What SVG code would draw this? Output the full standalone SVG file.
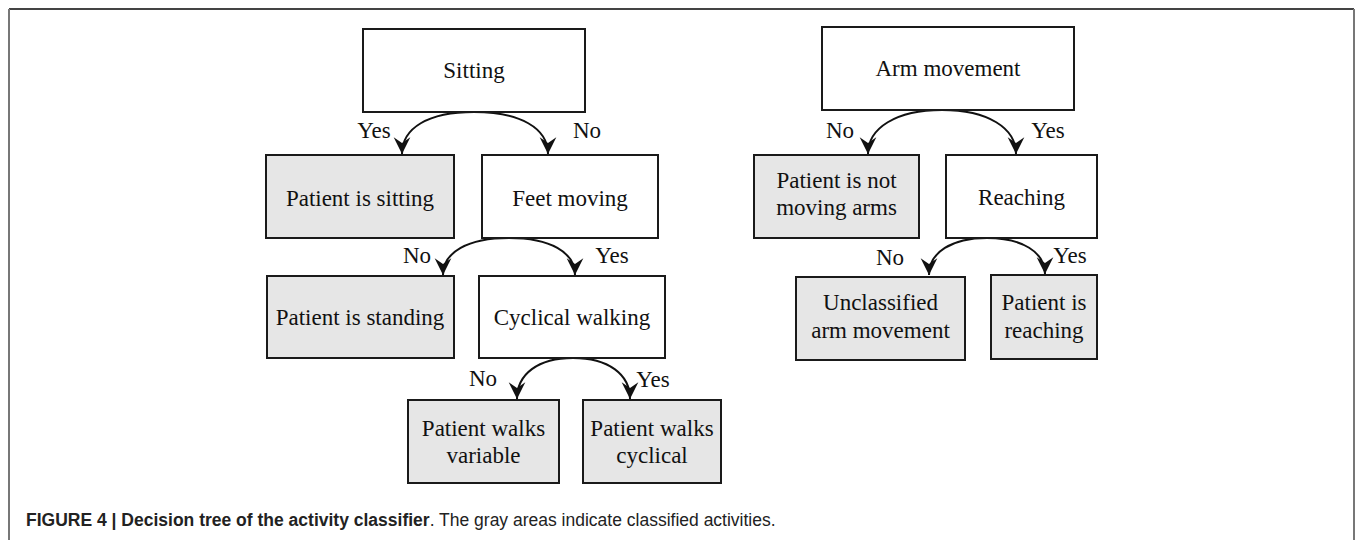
<svg xmlns="http://www.w3.org/2000/svg" width="1357" height="540" viewBox="0 0 1357 540">
<style>
.box{stroke:#1a1a1a;stroke-width:2;}
.dec{fill:#ffffff;}
.leaf{fill:#e6e6e6;}
.t{font-family:"Liberation Serif","Times New Roman",serif;font-size:23px;fill:#111;text-anchor:middle;}
.lbl{font-family:"Liberation Serif","Times New Roman",serif;font-size:23px;fill:#111;text-anchor:middle;}
.edge{fill:none;stroke:#111;stroke-width:2;marker-end:url(#ah);}
.cap{font-family:"Liberation Sans",Arial,sans-serif;font-size:17.5px;fill:#222;}
</style>
<defs>
<marker id="ah" markerUnits="userSpaceOnUse" markerWidth="20" markerHeight="20" viewBox="-16 -8 18 16" refX="0" refY="0" orient="auto">
<path d="M0,0 L-15,-7.5 L-10,0 L-15,7.5 Z" fill="#111"/>
</marker>
</defs>
<g id="frame" fill="none">
<line x1="9" y1="9" x2="1354" y2="9" stroke="#444" stroke-width="2"/>
<line x1="9" y1="9" x2="9" y2="540" stroke="#777" stroke-width="2"/>
<line x1="1354" y1="9" x2="1354" y2="540" stroke="#777" stroke-width="2"/>
</g>
<g id="connectors">
<path class="edge" d="M474,112 C428,112 402,128 402,154"/>
<path class="edge" d="M474,112 C520,112 548,128 548,154"/>
<path class="edge" d="M509,238 C468,238 443,252 443,275"/>
<path class="edge" d="M509,238 C550,238 575,252 575,275"/>
<path class="edge" d="M573,358 C538,358 517,374 517,399"/>
<path class="edge" d="M573,358 C608,358 630,374 630,399"/>
<path class="edge" d="M942,110 C896,110 868,128 868,154"/>
<path class="edge" d="M942,110 C988,110 1016,128 1016,154"/>
<path class="edge" d="M987,238 C952,238 929,252 929,275"/>
<path class="edge" d="M987,238 C1022,238 1045,252 1045,274"/>
<text class="lbl" x="374" y="138">Yes</text>
<text class="lbl" x="587" y="138">No</text>
<text class="lbl" x="417" y="263">No</text>
<text class="lbl" x="612" y="263">Yes</text>
<text class="lbl" x="483" y="386">No</text>
<text class="lbl" x="653" y="387">Yes</text>
<text class="lbl" x="840" y="138">No</text>
<text class="lbl" x="1048" y="138">Yes</text>
<text class="lbl" x="890" y="265">No</text>
<text class="lbl" x="1070" y="263">Yes</text>
</g>
<g id="sitting"><rect class="box dec" x="363" y="29" width="222" height="83"/><text class="t" x="474" y="78">Sitting</text></g>
<g id="patient-sitting"><rect class="box leaf" x="266" y="155" width="188" height="83"/><text class="t" x="360" y="206">Patient is sitting</text></g>
<g id="feet-moving"><rect class="box dec" x="482" y="155" width="176" height="83"/><text class="t" x="570" y="206">Feet moving</text></g>
<g id="patient-standing"><rect class="box leaf" x="267" y="276" width="187" height="82"/><text class="t" x="360" y="325">Patient is standing</text></g>
<g id="cyclical-walking"><rect class="box dec" x="479" y="276" width="186" height="82"/><text class="t" x="572" y="325">Cyclical walking</text></g>
<g id="walks-variable"><rect class="box leaf" x="408" y="400" width="151" height="83"/><text class="t" x="483.5" y="436">Patient walks</text><text class="t" x="483.5" y="463">variable</text></g>
<g id="walks-cyclical"><rect class="box leaf" x="583" y="400" width="138" height="83"/><text class="t" x="652" y="436">Patient walks</text><text class="t" x="652" y="463">cyclical</text></g>
<g id="arm-movement"><rect class="box dec" x="822" y="27" width="252" height="83"/><text class="t" x="948" y="76">Arm movement</text></g>
<g id="not-moving-arms"><rect class="box leaf" x="754" y="155" width="165" height="83"/><text class="t" x="836.5" y="188">Patient is not</text><text class="t" x="836.5" y="215">moving arms</text></g>
<g id="reaching"><rect class="box dec" x="946" y="155" width="151" height="83"/><text class="t" x="1021.5" y="205">Reaching</text></g>
<g id="unclassified"><rect class="box leaf" x="796" y="277" width="169" height="83"/><text class="t" x="880.5" y="310">Unclassified</text><text class="t" x="880.5" y="338">arm movement</text></g>
<g id="patient-reaching"><rect class="box leaf" x="991" y="275" width="106" height="84"/><text class="t" x="1044" y="310">Patient is</text><text class="t" x="1044" y="338">reaching</text></g>
<text class="cap" x="26" y="526"><tspan font-weight="bold">FIGURE 4 | Decision tree of the activity classifier</tspan>. The gray areas indicate classified activities.</text>
</svg>
